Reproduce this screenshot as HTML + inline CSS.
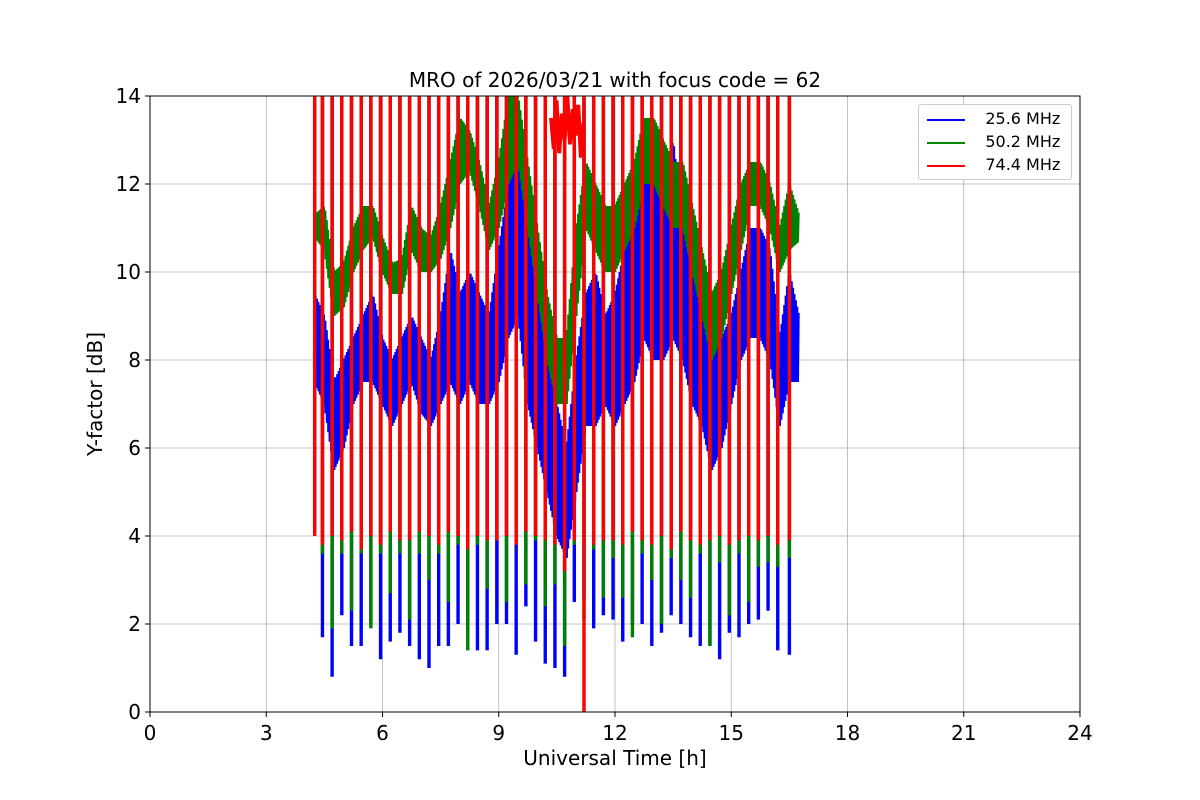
<!DOCTYPE html>
<html><head><meta charset="utf-8"><style>
body{margin:0;background:#fff}
svg{display:block;font-family:"DejaVu Sans","Liberation Sans",sans-serif}
</style></head><body>
<svg id="chart" width="1200" height="800"></svg>
<script>
const times=[4.25,4.5,4.75,5,5.25,5.5,5.75,6,6.25,6.5,6.75,7,7.25,7.5,7.75,8,8.25,8.5,8.75,9,9.25,9.5,9.75,10,10.25,10.5,10.75,11,11.25,11.5,11.75,12,12.25,12.5,12.75,13,13.25,13.5,13.75,14,14.25,14.5,14.75,15,15.25,15.5,15.75,16,16.25,16.5,16.75];
const blueLo=[7.5,7,5.5,6,7,7.5,7.5,7,6.5,7,7.5,6.8,6.5,7,7.5,7,7.5,7,7,7.5,8.5,9,7,6,5,4,3.5,5,6.5,6.5,7,6.5,7,7.5,8.5,8,8,8.5,8,7,6.5,5.5,6,7,8,8.5,8.5,8,6.5,7.5,7.5];
const blueHi=[9.5,9,7.5,8,8.5,9,9.5,8.5,8,8.5,9,8.5,8,9,10.5,9.5,10,9.5,9,10.5,12,13,11,10,8,7,6,8,9.5,10,9,9.5,10.5,12,13.5,12,12,13,11,10,9,8,8.5,9,10,11,11,10.5,8.5,10,9];
const greenLo=[10.8,10.5,9,9.2,10,10.5,10.8,10,9.5,9.5,10.5,10,10,10.3,11,12,12.3,11.5,10.5,11,12,12.5,11,9.5,8,7,7,9,11,10.5,10,10,10.5,11,12,12,11.5,11,11,10,9,8,8.5,9.5,10.5,11.5,11.5,11,10,10.5,10.7];
const greenHi=[11.3,11.5,10,10.2,11,11.5,11.5,10.8,10.2,10.3,11.5,11,10.8,11.5,12.5,13.5,13.2,12.5,11.5,12.5,14,14,12.5,11,9.5,8.5,8.5,11,12.5,12,11.5,11.5,12,12.5,13.5,13.5,13,12.5,12.5,11.5,10.5,9.5,10,11,12,12.5,12.5,12,11,12,11.3];
const spikeTimes=[4.25,4.45,4.7,4.95,5.2,5.45,5.7,5.95,6.2,6.45,6.7,6.95,7.2,7.45,7.7,7.95,8.2,8.45,8.7,8.95,9.2,9.45,9.7,9.95,10.2,10.45,10.7,10.95,11.2,11.45,11.7,11.95,12.2,12.45,12.7,12.95,13.2,13.45,13.7,13.95,14.2,14.45,14.7,14.95,15.2,15.45,15.7,15.95,16.2,16.5];
const spikeBlue=[4.1,1.7,0.8,2.2,1.5,1.5,2.0,1.2,1.6,1.8,1.5,1.2,1.0,1.5,1.5,2.0,1.9,1.4,1.4,2.0,2.0,1.3,2.4,1.6,1.1,1.0,0.8,2.5,2.6,1.9,2.2,2.1,1.6,2.0,2.0,1.5,1.8,2.2,2.0,1.7,1.5,1.5,1.2,1.8,1.7,2.0,2.1,2.3,1.4,1.3];
const spikeGreen=[6.4,3.6,1.9,3.6,2.3,3.6,1.9,3.6,2.7,3.6,2.1,3.6,3.0,3.6,2.5,3.8,1.4,3.8,2.8,3.9,2.5,3.9,2.9,3.9,2.4,2.9,1.5,3.8,2.1,3.7,2.6,3.5,2.6,1.7,3.6,3.0,2.0,3.5,3.0,2.6,3.6,1.5,3.4,2.2,3.6,2.5,3.3,3.4,3.3,3.5];
const spikeRed=[4,3.8,4,3.9,4.1,3.7,4,3.8,4.1,3.9,3.9,4.1,4,3.8,4.1,4,3.7,4,3.9,3.9,4,3.8,4.1,4,3.9,3.8,3.2,3.9,0,3.8,3.9,3.9,3.8,4.1,3.9,3.8,4,3.7,4.1,3.9,3.8,3.9,4,3.8,3.9,4,3.9,4,3.8,3.9];
const redNoise=[13.5,12.8,13.9,12.7,13.6,13.0,14,12.9,13.7,13.1,13.8,12.6,13.4];
const xTicks=[0,3,6,9,12,15,18,21,24];
const yTicks=[0,2,4,6,8,10,12,14];
const L=150,R=1080,T=96,B=712;
const X=t=>L+(t/24)*(R-L), Y=v=>B-(v/14)*(B-T);
const svg=document.getElementById('chart');const NS='http://www.w3.org/2000/svg';
function el(tag,attrs,text){const e=document.createElementNS(NS,tag);for(const k in attrs)e.setAttribute(k,attrs[k]);if(text!==undefined)e.textContent=text;return e;}
const clip=el('clipPath',{id:'pc'});clip.appendChild(el('rect',{x:L,y:T,width:R-L,height:B-T}));svg.appendChild(clip);
xTicks.forEach(t=>{const g=el('line',{x1:X(t),x2:X(t),y1:T,y2:B,stroke:'#b0b0b0','stroke-width':0.8});svg.appendChild(g);
const k=el('line',{x1:X(t),x2:X(t),y1:B,y2:B+5,stroke:'#000'});svg.appendChild(k);
const lb=el('text',{x:X(t),y:B+28,'text-anchor':'middle','font-size':20},String(t));svg.appendChild(lb);});
yTicks.forEach(v=>{const g=el('line',{x1:L,x2:R,y1:Y(v),y2:Y(v),stroke:'#b0b0b0','stroke-width':0.8});svg.appendChild(g);
svg.appendChild(el('line',{x1:L-5,x2:L,y1:Y(v),y2:Y(v),stroke:'#000'}));
const lb=el('text',{x:L-9,y:Y(v)+7,'text-anchor':'end','font-size':20},String(v));svg.appendChild(lb);});
const plot=el('g',{'clip-path':'url(#pc)'});svg.appendChild(plot);
function band(lo,hi,color,name){let pts=[];for(let i=0;i<times.length-1;i++){for(let j=0;j<14;j++){const f=j/14;const t=times[i]+f*(times[i+1]-times[i]);const v=(j%2?hi[i]*(1-f)+hi[i+1]*f:lo[i]*(1-f)+lo[i+1]*f);pts.push(X(t).toFixed(1)+','+Y(v).toFixed(1));}}
const p=el('polyline',{points:pts.join(' '),fill:'none',stroke:color,'stroke-width':2.6});plot.appendChild(p);}
function spikes(bot,color,name){spikeTimes.forEach((t,i)=>{const l=el('line',{x1:X(t),x2:X(t),y1:Y(bot[i]),y2:Y(14.5),stroke:color,'stroke-width':3.4});plot.appendChild(l);});}
band(blueLo,blueHi,'#0000ff','series-25-6-mhz');
spikes(spikeBlue,'#0000ff','spike-25-6-mhz');
band(greenLo,greenHi,'#008000','series-50-2-mhz');
spikes(spikeGreen,'#008000','spike-50-2-mhz');
spikes(spikeRed,'#ff0000','spike-74-4-mhz');
let rp=redNoise.map((v,i)=>X(10.35+i*0.07).toFixed(1)+','+Y(v).toFixed(1)).join(' ');
const rn=el('polyline',{points:rp,fill:'none',stroke:'#ff0000','stroke-width':4});plot.appendChild(rn);
const fr=el('rect',{x:L,y:T,width:R-L,height:B-T,fill:'none',stroke:'#000','stroke-width':1});svg.appendChild(fr);
</script>
<div style="position:absolute;left:0;top:0;width:1200px;height:800px;pointer-events:none">
<div style="position:absolute;left:0;width:1230px;top:68px;text-align:center;font:20px 'DejaVu Sans',sans-serif">MRO of 2026/03/21 with focus code = 62</div>
<div style="position:absolute;left:0;width:1230px;top:746px;text-align:center;font:20px 'DejaVu Sans',sans-serif">Universal Time [h]</div>
<div style="position:absolute;top:394px;transform:rotate(-90deg);transform-origin:center;width:210px;margin-left:-105px;margin-top:-12px;left:95px;text-align:center;font:20px 'DejaVu Sans',sans-serif">Y-factor [dB]</div>
<div style="position:absolute;left:918px;top:104px;width:152px;height:74px;background:#fff;border:1px solid #ccc;border-radius:3px;font:16px 'DejaVu Sans',sans-serif">
<div style="position:absolute;left:8px;top:4px"><span style="display:inline-block;width:38px;height:2px;background:#00f;vertical-align:middle"></span>&nbsp;&nbsp;&nbsp;&nbsp;25.6 MHz</div>
<div style="position:absolute;left:8px;top:27px"><span style="display:inline-block;width:38px;height:2px;background:#080;vertical-align:middle"></span>&nbsp;&nbsp;&nbsp;&nbsp;50.2 MHz</div>
<div style="position:absolute;left:8px;top:50px"><span style="display:inline-block;width:38px;height:2px;background:#f00;vertical-align:middle"></span>&nbsp;&nbsp;&nbsp;&nbsp;74.4 MHz</div>
</div>
</div>
</body></html>
